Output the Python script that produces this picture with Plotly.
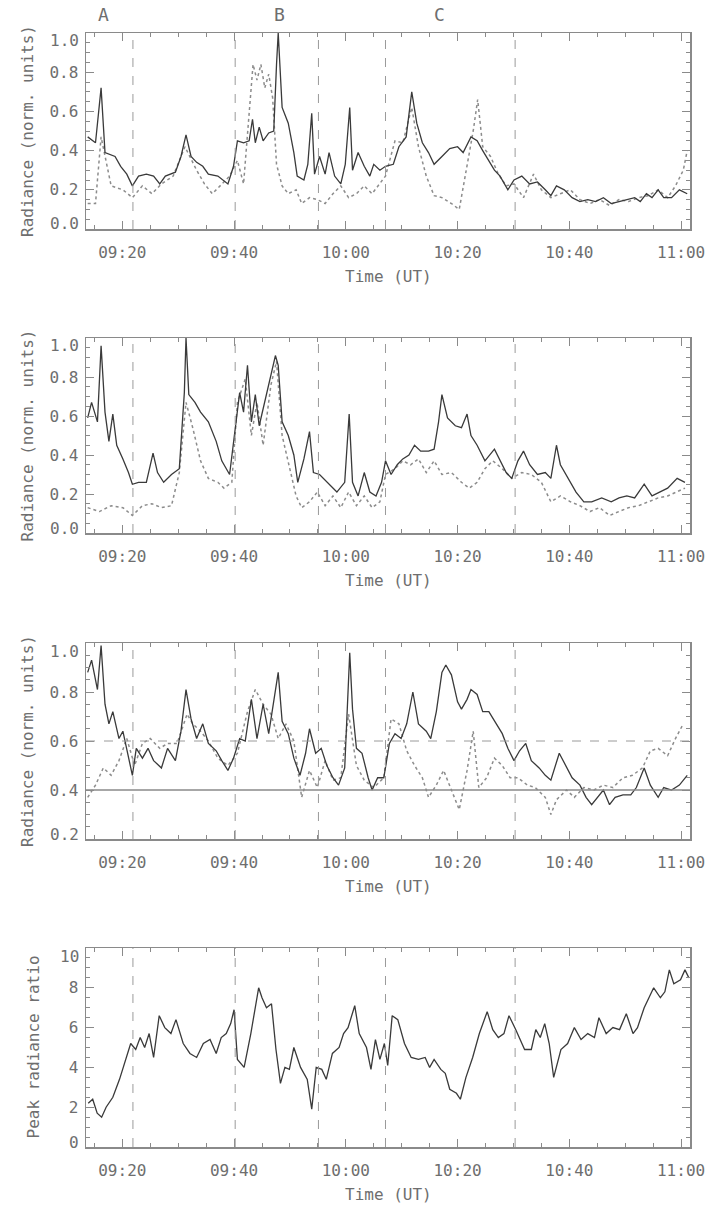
import plotly.graph_objects as go

# ---------------- data (time in minutes after 09:00 UT) ----------------
p1_solid_t = [13.8,15.2,16.2,16.9,18.7,19.7,20.8,21.8,22.9,24.3,25.6,26.7,27.7,29.5,30.5,31.4,32.3,33.3,34.4,35.4,37.1,38.9,39.9,40.6,41.7,42.7,43.3,43.8,44.5,45.2,46.2,47.1,47.6,47.9,48.6,49.7,50.7,51.3,52.5,53.2,53.9,54.4,55.3,56.3,57.0,58.0,59.1,59.9,60.7,61.2,62.2,63.3,64.3,65.0,66.1,67.1,68.5,69.5,70.8,71.8,72.7,73.7,74.8,75.8,77.2,78.6,80.0,81.0,82.4,83.5,84.5,85.6,86.6,87.6,89.0,90.1,91.5,92.9,94.3,95.7,96.7,97.7,99.1,100.5,101.9,103.3,104.7,106.1,107.5,108.9,110.3,111.7,112.7,113.8,114.8,115.9,116.9,118.3,119.7,121.1]
p1_solid_v = [0.47,0.44,0.72,0.39,0.37,0.32,0.28,0.22,0.27,0.28,0.27,0.23,0.27,0.29,0.37,0.48,0.37,0.34,0.32,0.28,0.27,0.23,0.32,0.45,0.44,0.45,0.56,0.44,0.52,0.45,0.49,0.50,0.84,1.0,0.62,0.54,0.39,0.27,0.25,0.33,0.59,0.28,0.37,0.28,0.39,0.27,0.23,0.33,0.62,0.30,0.39,0.32,0.27,0.33,0.30,0.32,0.33,0.42,0.47,0.70,0.54,0.44,0.39,0.33,0.37,0.41,0.42,0.39,0.47,0.45,0.40,0.35,0.30,0.27,0.20,0.25,0.27,0.23,0.24,0.20,0.17,0.22,0.20,0.16,0.14,0.15,0.14,0.16,0.13,0.14,0.15,0.16,0.14,0.18,0.16,0.20,0.16,0.16,0.20,0.18]
p1_dot_t = [13.8,15.2,16.2,18.0,20.1,21.8,23.6,25.3,27.0,29.1,31.2,33.3,34.7,36.1,37.5,39.2,40.6,41.7,42.7,43.4,44.1,44.8,45.5,46.2,46.9,47.6,48.6,49.7,51.1,52.1,53.5,54.9,56.3,57.7,59.1,60.5,61.9,63.3,64.7,66.1,67.1,68.8,70.2,71.8,73.0,74.4,75.8,77.2,78.9,80.3,81.4,82.8,83.6,84.5,85.9,87.3,88.7,90.1,91.8,93.6,95.0,96.7,98.4,100.2,101.9,103.7,105.4,107.2,108.9,110.6,112.4,114.1,115.9,117.6,119.0,120.4,121.1]
p1_dot_v = [0.13,0.13,0.47,0.22,0.20,0.16,0.22,0.18,0.23,0.27,0.42,0.30,0.23,0.18,0.22,0.27,0.35,0.23,0.59,0.84,0.76,0.84,0.72,0.79,0.67,0.33,0.22,0.18,0.20,0.13,0.16,0.15,0.13,0.18,0.22,0.16,0.18,0.22,0.18,0.23,0.27,0.45,0.44,0.62,0.42,0.27,0.17,0.16,0.13,0.10,0.27,0.50,0.66,0.42,0.37,0.28,0.22,0.23,0.16,0.28,0.20,0.16,0.18,0.20,0.15,0.13,0.15,0.12,0.15,0.14,0.16,0.17,0.20,0.16,0.22,0.30,0.40]

p2_solid_t = [13.8,14.5,15.55,16.2,16.9,17.6,18.3,19.0,20.1,21.1,21.8,22.9,24.3,25.5,26.3,27.4,28.8,30.2,31.1,31.4,31.9,33.0,34.0,35.4,36.8,37.8,39.2,40.3,41.0,41.7,42.4,43.1,43.8,44.5,45.5,46.6,47.4,47.9,48.6,49.7,50.7,51.4,52.5,53.5,54.2,55.3,56.6,58.4,59.8,60.6,61.2,62.2,63.3,64.3,65.4,66.4,67.1,68.1,69.2,70.2,71.3,72.3,73.4,74.8,75.8,76.6,77.2,78.2,79.6,80.7,81.7,82.4,83.5,84.9,86.6,87.6,88.7,89.7,90.8,91.8,92.9,94.3,95.7,96.7,97.7,98.4,99.8,101.2,102.6,104.0,105.8,107.5,108.9,110.3,111.7,113.4,114.8,116.2,117.6,119.3,120.7]
p2_solid_v = [0.59,0.67,0.57,0.96,0.62,0.47,0.61,0.45,0.38,0.31,0.25,0.26,0.26,0.41,0.31,0.26,0.30,0.33,0.72,1.0,0.71,0.67,0.62,0.57,0.47,0.37,0.30,0.54,0.72,0.62,0.86,0.57,0.71,0.55,0.67,0.81,0.91,0.86,0.57,0.50,0.40,0.26,0.38,0.52,0.31,0.30,0.26,0.21,0.26,0.61,0.26,0.19,0.31,0.21,0.19,0.26,0.37,0.30,0.35,0.38,0.40,0.45,0.42,0.42,0.43,0.57,0.71,0.59,0.55,0.54,0.61,0.50,0.45,0.37,0.43,0.37,0.31,0.28,0.37,0.42,0.35,0.30,0.31,0.28,0.45,0.35,0.28,0.21,0.16,0.16,0.18,0.16,0.18,0.19,0.18,0.25,0.19,0.21,0.23,0.28,0.26]
p2_dot_t = [13.8,15.9,18.0,20.1,21.8,23.6,25.3,27.0,28.8,30.2,31.4,32.6,34.0,35.4,37.1,38.2,39.6,40.6,42.0,43.1,44.1,45.2,46.6,47.6,48.6,50.0,51.1,52.1,53.5,54.9,56.3,57.7,59.1,60.5,61.9,63.3,64.7,66.1,67.1,68.8,70.2,71.6,73.0,74.4,75.8,77.2,78.9,80.7,82.1,83.5,84.9,86.3,88.0,89.7,91.5,93.2,95.0,96.7,98.4,100.2,101.9,103.7,105.4,107.2,108.9,110.6,112.4,114.1,115.9,117.6,119.3,120.7]
p2_dot_v = [0.13,0.11,0.14,0.13,0.09,0.14,0.15,0.13,0.14,0.31,0.67,0.54,0.37,0.28,0.26,0.23,0.26,0.67,0.79,0.50,0.67,0.45,0.76,0.88,0.50,0.33,0.19,0.13,0.16,0.21,0.14,0.19,0.13,0.21,0.14,0.19,0.13,0.16,0.30,0.33,0.37,0.35,0.38,0.31,0.37,0.30,0.31,0.26,0.23,0.26,0.33,0.37,0.33,0.28,0.31,0.30,0.26,0.16,0.19,0.16,0.14,0.11,0.13,0.09,0.11,0.13,0.14,0.16,0.18,0.19,0.21,0.23]

p3_solid_t = [13.8,14.5,15.55,16.2,16.9,17.6,18.3,19.4,20.1,20.8,21.8,22.5,23.6,24.6,25.6,27.0,28.1,29.5,30.5,31.4,32.3,33.3,34.4,35.4,36.8,37.8,38.9,39.9,41.0,42.0,43.1,44.1,45.2,46.2,47.2,47.9,48.6,49.7,50.7,51.8,52.8,53.5,54.6,55.6,56.6,57.7,58.7,59.8,60.7,61.2,61.9,62.9,64.0,64.7,65.7,66.8,67.8,68.8,69.9,70.9,72.0,73.0,74.4,75.2,76.2,77.2,77.9,78.9,80.0,80.7,81.7,82.4,83.5,84.5,85.6,86.6,88.0,89.0,90.1,91.1,92.2,93.2,94.6,95.7,96.7,98.2,99.5,100.5,101.9,103.0,104.0,105.1,106.1,107.2,108.2,109.6,111.0,112.0,113.4,114.5,115.9,116.9,118.3,119.7,121.1]
p3_solid_v = [0.88,0.93,0.81,0.99,0.75,0.67,0.72,0.61,0.64,0.56,0.46,0.57,0.53,0.57,0.52,0.49,0.57,0.52,0.64,0.81,0.69,0.61,0.67,0.59,0.56,0.52,0.48,0.53,0.61,0.60,0.77,0.61,0.75,0.63,0.77,0.88,0.68,0.63,0.53,0.46,0.55,0.65,0.55,0.57,0.50,0.45,0.42,0.49,0.96,0.73,0.57,0.55,0.45,0.40,0.45,0.45,0.59,0.63,0.61,0.67,0.80,0.67,0.64,0.61,0.72,0.88,0.91,0.87,0.76,0.73,0.77,0.81,0.79,0.72,0.72,0.68,0.63,0.57,0.52,0.56,0.59,0.52,0.49,0.46,0.44,0.55,0.49,0.45,0.42,0.37,0.34,0.37,0.40,0.34,0.37,0.38,0.38,0.41,0.49,0.42,0.37,0.41,0.40,0.42,0.46]
p3_dot_t = [13.8,15.2,16.6,18.0,19.4,20.8,22.2,23.6,25.0,26.7,28.1,29.8,31.6,32.6,34.0,35.4,37.1,38.9,40.6,42.4,43.8,45.2,46.6,47.9,49.3,50.7,52.1,53.5,54.9,56.3,57.7,59.1,60.5,61.9,63.3,65.0,66.8,68.1,69.5,70.9,72.3,73.7,74.8,76.2,77.5,78.9,80.3,81.7,82.8,83.8,85.2,86.6,88.0,89.4,90.8,92.5,93.9,95.7,96.7,97.7,99.5,100.9,102.6,104.4,106.1,107.8,109.6,111.3,113.1,114.5,115.9,117.6,119.0,120.4]
p3_dot_v = [0.37,0.42,0.49,0.46,0.52,0.61,0.50,0.59,0.61,0.57,0.59,0.59,0.71,0.67,0.64,0.60,0.53,0.50,0.55,0.72,0.81,0.75,0.71,0.61,0.67,0.60,0.37,0.48,0.41,0.52,0.44,0.45,0.71,0.50,0.44,0.41,0.45,0.69,0.67,0.56,0.50,0.45,0.37,0.42,0.48,0.40,0.32,0.48,0.64,0.41,0.45,0.53,0.50,0.45,0.45,0.42,0.41,0.37,0.30,0.36,0.40,0.37,0.41,0.40,0.42,0.41,0.45,0.46,0.49,0.56,0.57,0.54,0.61,0.67]

p4_t = [13.9,14.7,15.5,16.3,17.1,18.3,19.5,20.7,21.5,22.4,23.2,24.0,24.8,25.6,26.6,27.6,28.7,29.6,30.9,32.1,33.3,34.5,35.7,36.8,37.7,38.6,39.4,40.0,40.6,41.8,43.0,44.4,45.0,45.8,46.7,47.5,48.3,49.1,49.9,50.7,51.9,53.1,53.9,54.7,55.7,56.5,57.6,58.8,59.6,60.4,61.6,62.4,63.7,64.5,65.3,66.1,66.9,67.5,68.3,69.3,70.5,71.7,73.0,74.2,75.0,75.8,77.0,77.8,78.6,79.8,80.5,81.5,82.7,83.9,85.3,86.3,87.3,88.3,89.2,90.4,91.2,92.0,93.2,94.0,94.8,95.6,96.4,97.2,98.5,99.7,100.9,102.1,103.3,104.5,105.3,106.6,107.8,109.0,110.2,111.4,112.2,113.4,115.1,116.3,117.1,117.9,118.7,119.9,120.7,121.4]
p4_v = [2.2,2.4,1.7,1.5,2.0,2.5,3.4,4.5,5.2,4.9,5.5,5.0,5.7,4.5,6.6,6.0,5.7,6.4,5.2,4.7,4.5,5.2,5.4,4.7,5.5,5.7,6.2,6.9,4.4,4.0,5.7,8.0,7.5,7.0,7.2,4.9,3.2,4.0,3.9,5.0,4.0,3.4,1.9,4.0,3.9,3.4,4.7,5.0,5.7,6.0,7.1,5.7,5.0,3.9,5.4,4.4,5.2,4.1,6.6,6.4,5.2,4.5,4.4,4.5,4.0,4.4,3.9,3.7,2.9,2.7,2.4,3.5,4.5,5.7,6.8,5.9,5.5,5.7,6.6,5.9,5.4,4.9,4.9,5.9,5.5,6.2,5.2,3.5,4.9,5.2,6.0,5.4,5.7,5.5,6.5,5.7,6.0,5.9,6.7,5.7,6.0,7.0,8.0,7.5,7.8,8.9,8.2,8.4,8.9,8.5]

event_times = [21.9, 40.2, 55.1, 67.1, 90.3]
event_labels = ["A", "B", "C"]
event_label_times = [16.7, 48.2, 76.7]

x_tickvals = [20, 40, 60, 80, 100, 120]
x_ticktext = ["09:20", "09:40", "10:00", "10:20", "10:40", "11:00"]
x_range = [13.5, 121.6]

y_tickvals = [[0.0, 0.2, 0.4, 0.6, 0.8, 1.0],
              [0.0, 0.2, 0.4, 0.6, 0.8, 1.0],
              [0.2, 0.4, 0.6, 0.8, 1.0],
              [0, 2, 4, 6, 8, 10]]
y_ticktext = [["0.0", "0.2", "0.4", "0.6", "0.8", "1.0"],
              ["0.0", "0.2", "0.4", "0.6", "0.8", "1.0"],
              ["0.2", "0.4", "0.6", "0.8", "1.0"],
              ["0", "2", "4", "6", "8", "10"]]
y_ranges = [[0, 1], [0, 1], [0.2, 1.0], [0, 10]]
y_minor = [0.05, 0.05, 0.05, 0.5]

# ---------------- layout geometry ----------------
W, H = 709, 1207
XL, XR = 86, 690
x_dom = [XL / W, XR / W]
panels_px = [(33, 229), (338, 533), (643, 839), (948, 1147)]  # top, bottom in px
y_doms = [[(H - b) / H, (H - t) / H] for t, b in panels_px]

FONT = "DejaVu Sans Mono"
TXT = "#6e6e6e"
AX = "#8a8a8a"
SOLID = "#3a3a3a"
DOT = "#8c8c8c"

fig = go.Figure()

series = [
    (p1_solid_t, p1_solid_v, p1_dot_t, p1_dot_v),
    (p2_solid_t, p2_solid_v, p2_dot_t, p2_dot_v),
    (p3_solid_t, p3_solid_v, p3_dot_t, p3_dot_v),
]
for i, (st, sv, dt, dv) in enumerate(series):
    xa = "x" if i == 0 else f"x{i+1}"
    ya = "y" if i == 0 else f"y{i+1}"
    fig.add_trace(go.Scatter(x=dt, y=dv, mode="lines", xaxis=xa, yaxis=ya,
                             line=dict(color=DOT, width=1.5, dash="dot"), showlegend=False))
    fig.add_trace(go.Scatter(x=st, y=sv, mode="lines", xaxis=xa, yaxis=ya,
                             line=dict(color=SOLID, width=1.3), showlegend=False))
fig.add_trace(go.Scatter(x=p4_t, y=p4_v, mode="lines", xaxis="x4", yaxis="y4",
                         line=dict(color=SOLID, width=1.3), showlegend=False))

layout = dict(width=W, height=H, autosize=False, margin=dict(l=0, r=0, t=0, b=0, pad=0),
              paper_bgcolor="white", plot_bgcolor="white", showlegend=False)
minor_x = [v for v in range(15, 125, 5) if v not in x_tickvals]
for i in range(4):
    sfx = "" if i == 0 else str(i + 1)
    # the end labels are drawn as annotations, nudged inward as in the original
    inner_text = [""] + y_ticktext[i][1:-1] + [""]
    layout["xaxis" + sfx] = dict(
        domain=x_dom, range=x_range, anchor="y" + sfx, automargin=False,
        tickmode="array", tickvals=x_tickvals, ticktext=x_ticktext,
        ticks="inside", ticklen=8, tickcolor=AX, tickwidth=1,
        showline=True, linecolor=AX, linewidth=1.5, mirror="ticks",
        showgrid=False, zeroline=False, ticklabelstandoff=8,
        minor=dict(tickvals=minor_x, ticks="inside", ticklen=4, tickcolor=AX),
        tickfont=dict(family=FONT, size=16, color=TXT),
    )
    layout["yaxis" + sfx] = dict(
        domain=y_doms[i], range=y_ranges[i], anchor="x" + sfx, automargin=False,
        tickmode="array", tickvals=y_tickvals[i], ticktext=inner_text,
        ticks="inside", ticklen=8, tickcolor=AX, tickwidth=1,
        showline=True, linecolor=AX, linewidth=1.5, mirror="ticks",
        showgrid=False, zeroline=False, ticklabelstandoff=3,
        minor=dict(dtick=y_minor[i], tick0=y_ranges[i][0], ticks="inside",
                   ticklen=4, tickcolor=AX),
        tickfont=dict(family=FONT, size=16, color=TXT),
    )

shapes = []
for i in range(4):
    sfx = "" if i == 0 else str(i + 1)
    for et in event_times:
        shapes.append(dict(type="line", xref="x" + sfx, yref="y" + sfx + " domain",
                           x0=et, x1=et, y0=0, y1=1,
                           line=dict(color="#9a9a9a", width=1, dash="dash")))
# reference levels in panel 3
shapes.append(dict(type="line", xref="x3 domain", yref="y3", x0=0, x1=1, y0=0.4, y1=0.4,
                   line=dict(color="#8a8a8a", width=1.5)))
shapes.append(dict(type="line", xref="x3 domain", yref="y3", x0=0, x1=1, y0=0.6, y1=0.6,
                   line=dict(color="#9a9a9a", width=1, dash="dash")))
layout["shapes"] = shapes

annotations = []
for lab, lt in zip(event_labels, event_label_times):
    annotations.append(dict(text=lab, x=lt, xref="x", y=(H - 15) / H, yref="paper",
                            showarrow=False, xanchor="center", yanchor="middle",
                            font=dict(family=FONT, size=18, color=TXT)))
for i, (t, b) in enumerate(panels_px):
    sfx = "" if i == 0 else str(i + 1)
    # end tick labels, slightly inside the frame
    for val, txt, shift in [(y_tickvals[i][0], y_ticktext[i][0], 5),
                            (y_tickvals[i][-1], y_ticktext[i][-1], -8)]:
        annotations.append(dict(text=txt, x=(XL - 5) / W, xref="paper",
                                y=val, yref="y" + sfx, yshift=shift, showarrow=False,
                                xanchor="right", yanchor="middle",
                                font=dict(family=FONT, size=16, color=TXT)))
    annotations.append(dict(text="Time (UT)", x=(XL + XR) / 2 / W, xref="paper",
                            y=(H - (b + 47)) / H, yref="paper", showarrow=False,
                            xanchor="center", yanchor="middle",
                            font=dict(family=FONT, size=16, color=TXT)))
    ytitle = "Radiance (norm. units)" if i < 3 else "Peak radiance ratio"
    xc = 27 if i < 3 else 33
    annotations.append(dict(text=ytitle, x=xc / W, xref="paper",
                            y=(H - (t + b) / 2) / H, yref="paper", showarrow=False,
                            textangle=-90, xanchor="center", yanchor="middle",
                            font=dict(family=FONT, size=16, color=TXT)))
layout["annotations"] = annotations

fig.update_layout(**layout)
fig.write_html("out.html", config={"displayModeBar": False, "staticPlot": True},
               post_script="document.body.style.margin='0px';document.body.style.overflow='hidden';")
